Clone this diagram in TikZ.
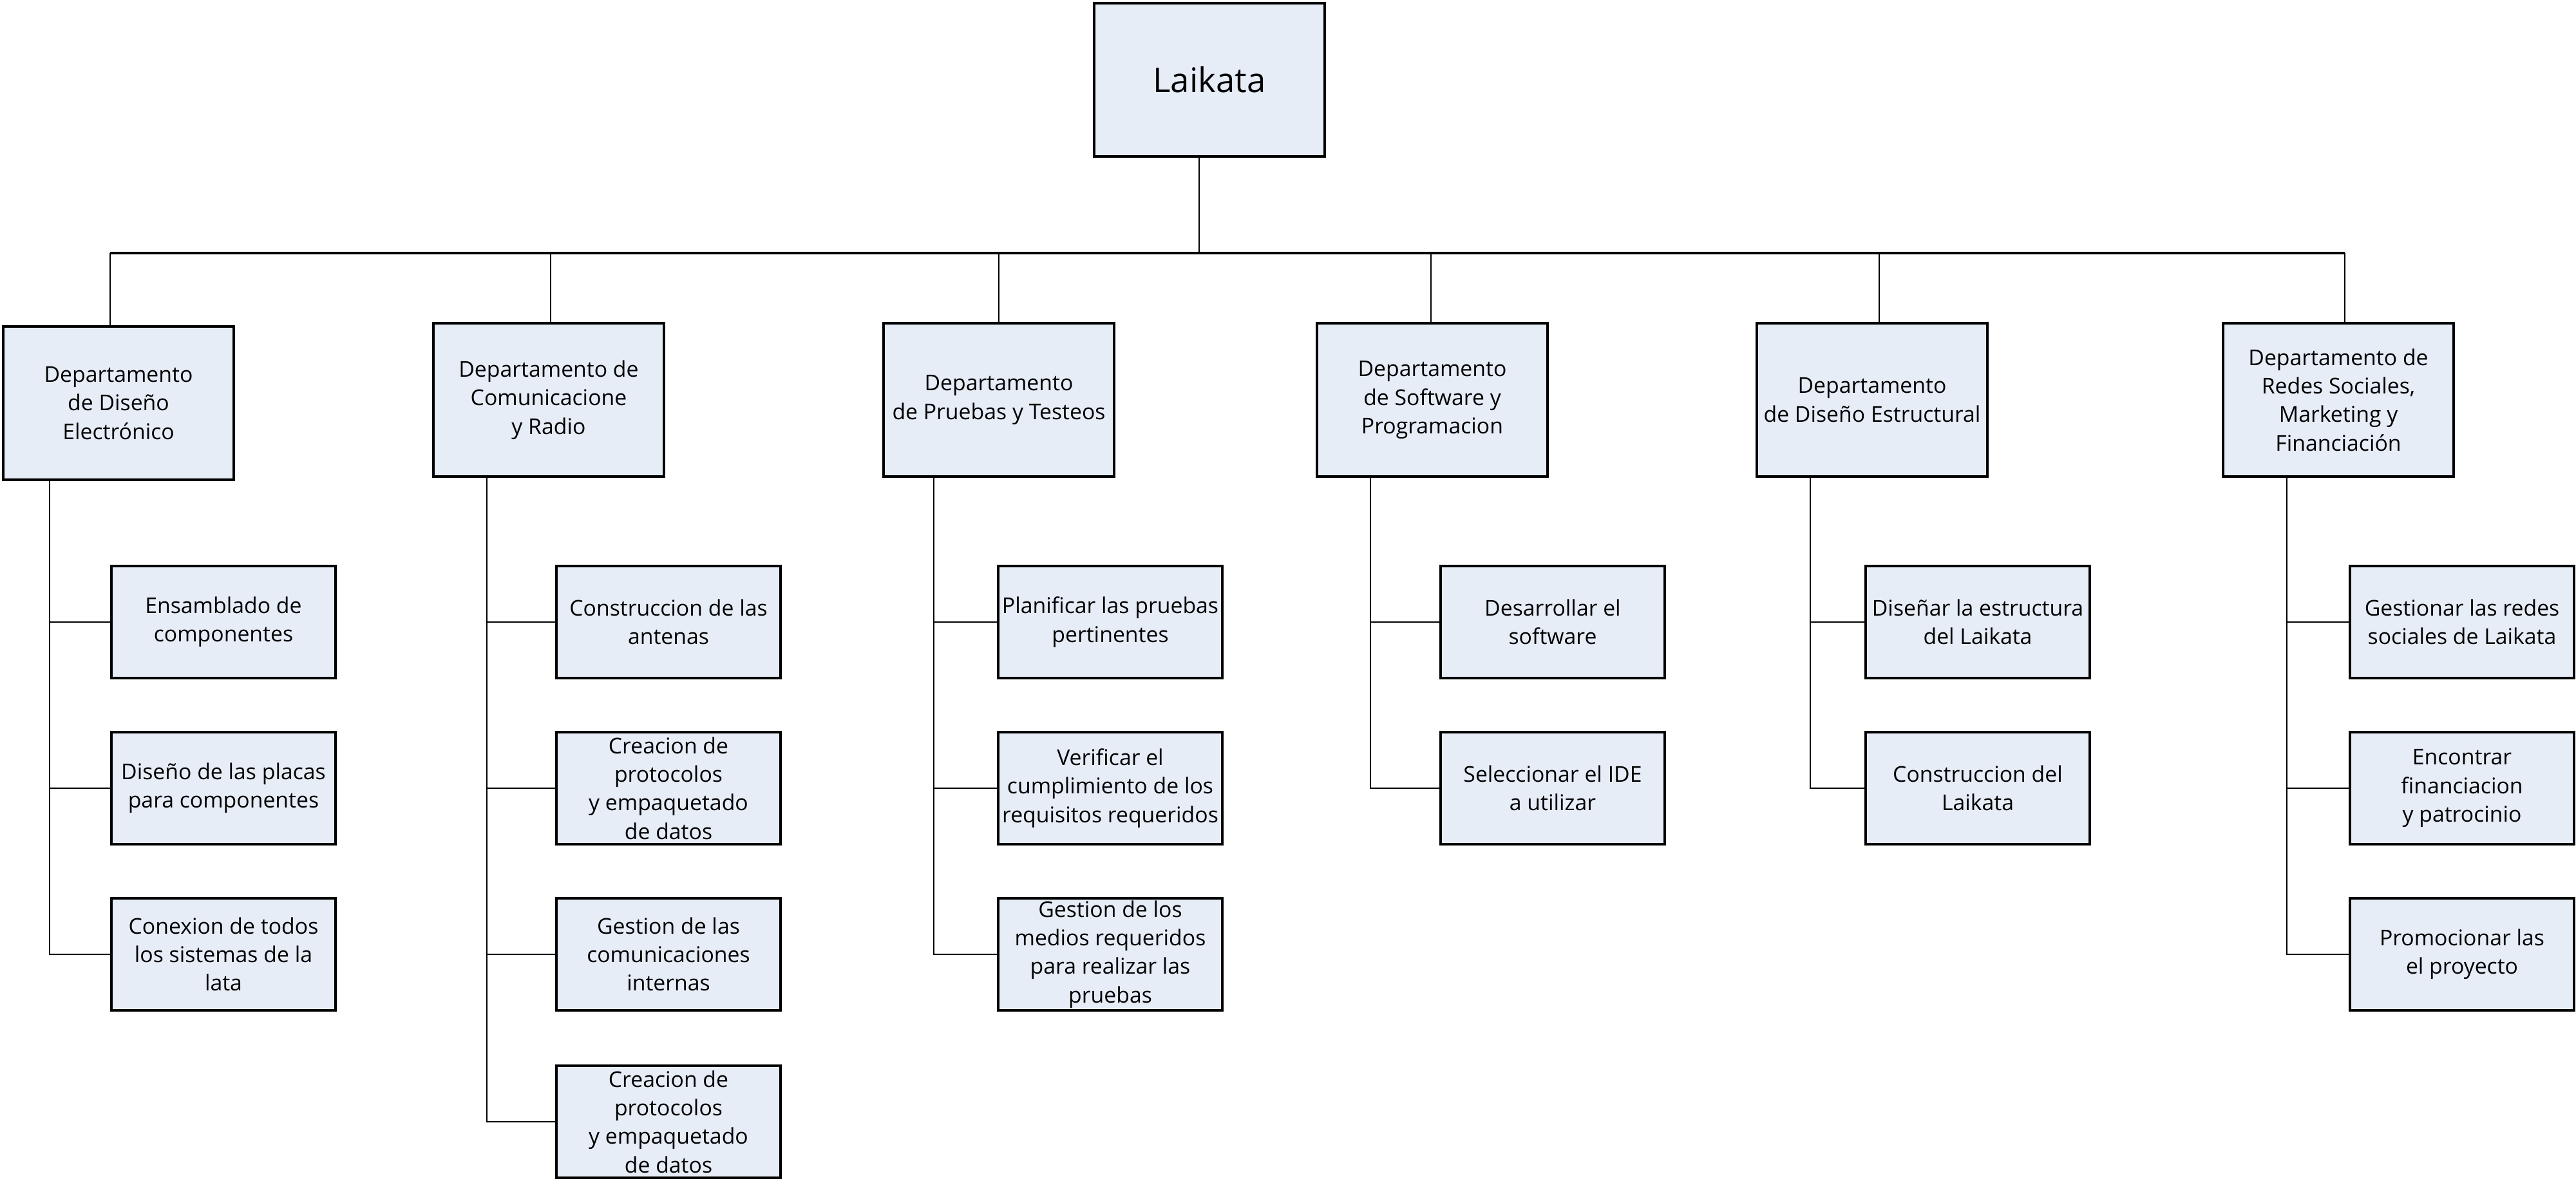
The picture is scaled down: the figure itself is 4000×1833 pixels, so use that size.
\documentclass[tikz,border=0pt]{standalone}
\usepackage{fontspec}
\setmainfont{Open Sans}
\usetikzlibrary{positioning}
\definecolor{lkfill}{HTML}{E6EDF7}

\begin{document}
\begin{tikzpicture}[x=0.01cm, y=-0.01cm, font=\fontsize{9.6}{12.6}\selectfont,
      box/.style={draw=black, line width=1.1pt, fill=lkfill, align=center, inner sep=1pt},
      dept/.style={box, minimum width=3.58cm, minimum height=2.38cm},
      task/.style={box, minimum width=3.48cm, minimum height=1.74cm},
      conn/.style={line width=0.6pt}, busline/.style={line width=1.1pt}]
      \useasboundingbox (0,0) rectangle (4000,1833);
      % raiz y departamentos
      \node[dept] (lk) at (1878,124) {\fontsize{15}{18}\selectfont Laikata};
      \node[dept] (d1) at (184,626) {Departamento\\de Diseño\\Electrónico};
      \node[dept] (d2) at (852,621) {Departamento de\\Comunicacione\\y Radio};
      \node[dept] (d3) at (1551,621) {Departamento\\de Pruebas y Testeos};
      \node[dept] (d4) at (2224,621) {Departamento\\de Software y\\Programacion};
      \node[dept] (d5) at (2907,621) {Departamento\\de Diseño Estructural};
      \node[dept] (d6) at (3631,621) {Departamento de\\Redes Sociales,\\Marketing y\\Financiación};
      \coordinate (bus) at (1862,393);
      \draw[conn] ([xshift=-0.16cm]lk.south) -- ([xshift=-0.16cm]lk.south |- bus);
      \draw[busline] ([xshift=-0.13cm]d1.north |- bus) -- ([xshift=0.10cm]d6.north |- bus);
      \foreach \d/\dx in {d1/-0.13, d2/0.03, d3/0, d4/-0.02, d5/0.11, d6/0.10}
        \draw[conn] ([xshift=\dx cm]\d.north) -- ([xshift=\dx cm]\d.north |- bus);
      % tareas
      \node[task] (d1a) at (347,966) {Ensamblado de\\componentes};
      \node[task] (d1b) at (347,1224) {Diseño de las placas\\para componentes};
      \node[task] (d1c) at (347,1482) {Conexion de todos\\los sistemas de la\\lata};
      \node[task] (d2a) at (1038,966) {Construccion de las\\antenas};
      \node[task] (d2b) at (1038,1224) {Creacion de\\protocolos\\y empaquetado\\de datos};
      \node[task] (d2c) at (1038,1482) {Gestion de las\\comunicaciones\\internas};
      \node[task] (d2d) at (1038,1742) {Creacion de\\protocolos\\y empaquetado\\de datos};
      \node[task] (d3a) at (1724,966) {Planificar las pruebas\\pertinentes};
      \node[task] (d3b) at (1724,1224) {Verificar el\\cumplimiento de los\\requisitos requeridos};
      \node[task] (d3c) at (1724,1482) {Gestion de los\\medios requeridos\\para realizar las\\pruebas};
      \node[task] (d4a) at (2411,966) {Desarrollar el\\software};
      \node[task] (d4b) at (2411,1224) {Seleccionar el IDE\\a utilizar};
      \node[task] (d5a) at (3071,966) {Diseñar la estructura\\del Laikata};
      \node[task] (d5b) at (3071,1224) {Construccion del\\Laikata};
      \node[task] (d6a) at (3823,966) {Gestionar las redes\\sociales de Laikata};
      \node[task] (d6b) at (3823,1224) {Encontrar\\financiacion\\y patrocinio};
      \node[task] (d6c) at (3823,1482) {Promocionar las\\el proyecto};
      % troncos
      \coordinate (t1) at ([xshift=0.74cm]d1.south west);
      \coordinate (t2) at ([xshift=0.85cm]d2.south west);
      \coordinate (t3) at ([xshift=0.80cm]d3.south west);
      \coordinate (t4) at ([xshift=0.85cm]d4.south west);
      \coordinate (t5) at ([xshift=0.85cm]d5.south west);
      \coordinate (t6) at ([xshift=1.01cm]d6.south west);
      \foreach \s in {d1a,d1b,d1c} \draw[conn] (t1) |- (\s.west);
      \foreach \s in {d2a,d2b,d2c,d2d} \draw[conn] (t2) |- (\s.west);
      \foreach \s in {d3a,d3b,d3c} \draw[conn] (t3) |- (\s.west);
      \foreach \s in {d4a,d4b} \draw[conn] (t4) |- (\s.west);
      \foreach \s in {d5a,d5b} \draw[conn] (t5) |- (\s.west);
      \foreach \s in {d6a,d6b,d6c} \draw[conn] (t6) |- (\s.west);
    \end{tikzpicture}
\end{document}
